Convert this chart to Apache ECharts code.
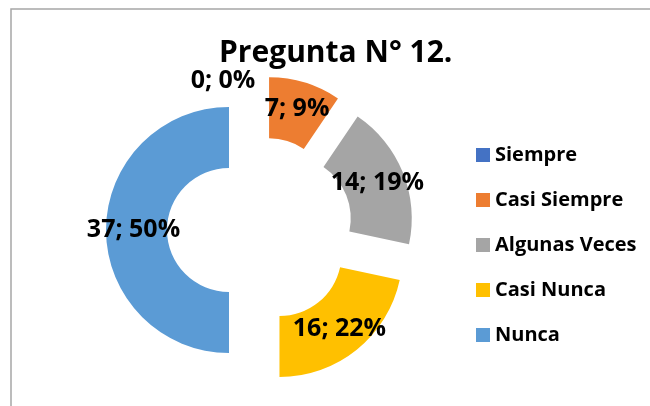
<!DOCTYPE html>
<html>
<head>
<meta charset="utf-8">
<script src="https://cdn.jsdelivr.net/npm/echarts@6/dist/echarts.min.js"></script>
<style>
  html, body { margin: 0; padding: 0; background: #fff; }
  #main { width: 650px; height: 406px; }
</style>
</head>
<body>
<div id="main"></div>
<script>
// chart data
const categories = ['Siempre', 'Casi Siempre', 'Algunas Veces', 'Casi Nunca', 'Nunca'];
const values = [0, 7, 14, 16, 37];
const colors = ['#4472C4', '#ED7D31', '#A5A5A5', '#FFC000', '#5B9BD5'];
const titleText = 'Pregunta N° 12.';

const font = '"Open Sans", "Noto Sans", sans-serif';

const myChart = echarts.init(document.getElementById('main'));

const option = {
    backgroundColor: '#fff',
    title: {
        text: titleText,
        left: 214,
        top: 33,
        textStyle: { fontFamily: font, fontSize: 30, fontWeight: 'bold', color: '#000' }
    },
    legend: {
        orient: 'vertical',
        left: 471,
        top: 140,
        icon: 'rect',
        itemWidth: 14,
        itemHeight: 14,
        itemGap: 25,
        selectedMode: false,
        data: categories,
        textStyle: { fontFamily: font, fontSize: 20, fontWeight: 'bold', color: '#000', lineHeight: 20 }
    },
    graphic: [{
        type: 'rect',
        shape: { x: 11, y: 9, width: 700, height: 500 },
        style: { fill: 'none', stroke: '#a6a6a6', lineWidth: 1.5 },
        silent: true
    }],
    series: [{
        type: 'pie',
        center: [260, 230],
        radius: [62, 123],
        startAngle: 90,
        clockwise: true,
        selectedMode: 'multiple',
        selectedOffset: 31,
        avoidLabelOverlap: false,
        silent: true,
        label: {
            show: true,
            position: 'inside',
            fontFamily: font,
            fontSize: 25,
            fontWeight: 'bold',
            color: '#000',
            formatter: function (p) {
                return p.value + '; ' + Math.round(p.percent) + '%';
            }
        },
        labelLayout: function (p) {
            // the empty slice gets its label nudged up-left
            if (values[p.dataIndex] === 0) {
                return { dx: -37, dy: -23 };
            }
        },
        labelLine: { show: false },
        select: { itemStyle: { borderWidth: 0 } },
        data: categories.map(function (name, i) {
            return {
                name: name,
                value: values[i],
                selected: true,
                itemStyle: { color: colors[i] },
                select: { itemStyle: { color: colors[i] } }
            };
        })
    }]
};

myChart.setOption(option);
</script>
</body>
</html>
